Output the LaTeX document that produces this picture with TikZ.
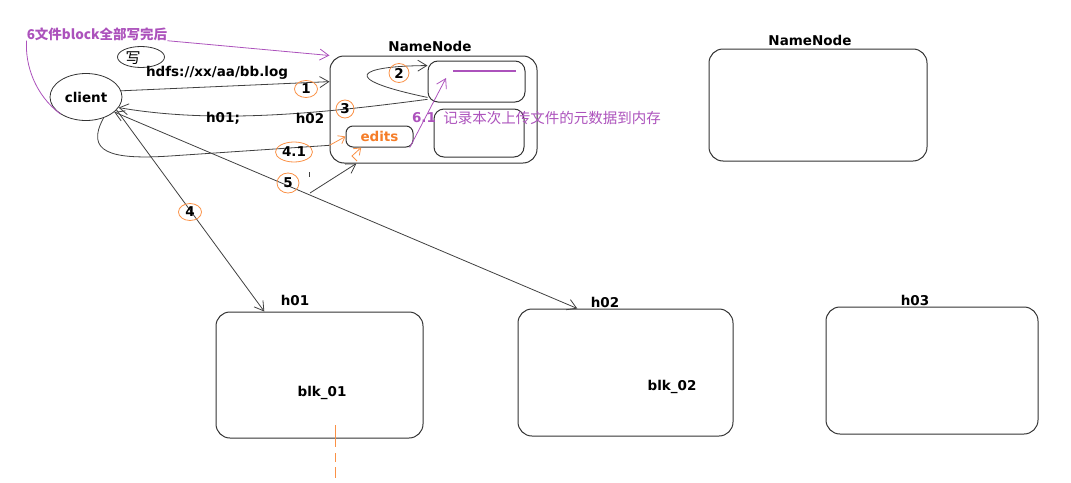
\documentclass[tikz,border=0pt]{standalone}
\usepackage{fontspec}
\setmainfont{DejaVu Sans}
\newfontfamily\cjk{Noto Sans CJK SC}
\usepackage{tikz}
\usetikzlibrary{shapes.geometric,arrows.meta,positioning}
\definecolor{notepurple}{RGB}{172,82,188}
\definecolor{markorange}{RGB}{250,145,70}
\definecolor{editorange}{RGB}{245,125,40}

\begin{document}
\begin{tikzpicture}[x=1pt, y=-1pt,
    box/.style={draw=black!80, line width=1pt, rounded corners=14pt, inner sep=0pt},
    lbl/.style={font=\bfseries\fontsize{13.5}{15}\selectfont, inner sep=0pt},
    num/.style={ellipse, draw=markorange, line width=0.8pt, inner sep=0pt, font=\bfseries\fontsize{13.5}{15}\selectfont},
    arr/.style={-{Straight Barb[length=9pt, width=11pt]}, line width=0.8pt, black!75},
    darr/.style={{Straight Barb[length=9pt, width=11pt]}-{Straight Barb[length=9pt, width=11pt]}, line width=0.8pt, black!75},
    oarr/.style={-{Straight Barb[length=6pt, width=9pt]}, line width=0.8pt, markorange},
    parr/.style={-{Straight Barb[length=9pt, width=11pt]}, line width=0.8pt, notepurple}]

    \useasboundingbox (0,0) rectangle (1071,482);

    % Client
    \node[ellipse, draw=black!80, line width=0.8pt, minimum width=72pt, minimum height=47pt, lbl] (client) at (86,97) {client};
    \node[ellipse, draw=black!80, line width=0.8pt, minimum width=47pt, minimum height=21pt] (xie) at (141,57) {};
    \node[font=\cjk\fontsize{15}{16}\selectfont, inner sep=0pt] (xietxt) at (133,58) {写};
    \node[font=\cjk\bfseries\fontsize{13.5}{15}\selectfont, text=notepurple, inner sep=0pt] (note6) at (97,34) {6文件block全部写完后};

    % NameNode (active)
    \node[box, minimum width=207pt, minimum height=107pt] (nn) at (433.5,109.5) {};
    \node[lbl] (nnlbl) at (430,46) {NameNode};
    \node[box, rounded corners=10pt, minimum width=97pt, minimum height=41pt] (meta) at (476.5,81.5) {};
    \node[box, rounded corners=10pt, minimum width=90pt, minimum height=48pt] (mem) at (479,133) {};
    \node[box, rounded corners=7pt, minimum width=67pt, minimum height=21pt, lbl, text=editorange] (edits) at (379.5,136.5) {edits};
    \draw[notepurple, line width=1.4pt] (453,71) -- (516,71);

    % NameNode (standby)
    \node[box, minimum width=218pt, minimum height=112pt] (nn2) at (818,105) {};
    \node[lbl] (nn2lbl) at (810,40) {NameNode};

    % DataNodes
    \node[box, minimum width=207pt, minimum height=126pt] (h01) at (319.5,375) {};
    \node[lbl] (h01lbl) at (295,300) {h01};
    \node[lbl] (blk01) at (322,393) {blk\_01};
    \node[box, minimum width=215pt, minimum height=127pt] (h02) at (625.5,372.5) {};
    \node[lbl] (h02lbl) at (605,302) {h02};
    \node[lbl] (blk02) at (672,387) {blk\_02};
    \node[box, minimum width=212pt, minimum height=127pt] (h03) at (932,370.5) {};
    \node[lbl] (h03lbl) at (915,300) {h03};
    \draw[markorange, line width=0.8pt, dash pattern=on 22pt off 6pt on 9pt off 5pt] (335,425) -- (335,478);

    % 1: upload request
    \draw[arr] (client.10) -- (nn.165);
    \node[lbl] (path) at (217,73) {hdfs://xx/aa/bb.log};
    \node[num, minimum width=23pt, minimum height=17pt] (n1) at (306,89) {1};

    % 2: check inside NameNode
    \draw[arr] (meta.198) .. controls (335,78) and (360,66) .. (meta.162);
    \node[num, minimum width=20pt, minimum height=19pt] (n2) at (399,73) {2};

    % 3: reply with DataNodes
    \draw[arr] (meta.200) .. controls (330,112) and (220,125) .. (client.-18);
    \node[num, minimum width=18pt, minimum height=18pt] (n3) at (345,109) {3};
    \node[lbl] (h01a) at (223,118) {h01;};
    \node[lbl] (h02a) at (310,118) {h02};

    % 4.1: write edits
    \draw[line width=0.8pt, black!75] (client.-50) .. controls (85,152) and (110,160) .. (170,156) -- (nn.199);
    \draw[oarr] (nn.199) -- (edits.west);
    \node[num, minimum width=37pt, minimum height=20pt] (n41) at (294,152) {4.1};

    % 4: write block to h01
    \draw[arr] (client.-23) -- (h01.131);
    \node[num, minimum width=23pt, minimum height=17pt] (n4) at (190,212) {4};

    % 5: pipeline to h02, report back
    \draw[darr] (client.-28) -- (h02.127);
    \coordinate (b5) at (310,193);
    \draw[arr] (b5) -- (nn.215);
    \draw[line width=0.8pt, black!75] (309,172) -- (309,177);
    \coordinate (o5) at (357,161);
    \draw[oarr] (o5) -- (352,156) -- (edits.211);
    \node[num, minimum width=22pt, minimum height=20pt] (n5) at (288,183) {5};

    % 6: all blocks written
    \draw[parr] (note6.south east) -- (nn.north west);
    \draw[line width=0.8pt, notepurple] (note6.south west) .. controls (25,65) and (35,95) .. (client.214);

    % 6.1: metadata into memory
    \coordinate (m61) at (446,78);
    \draw[parr] (edits.-20) -- (m61);
    \node[lbl, text=notepurple] (n61) at (424,118) {6.1};
    \node[font=\cjk\fontsize{14.5}{16}\selectfont, text=notepurple, inner sep=0pt] (memo) at (552,118) {记录本次上传文件的元数据到内存};
\end{tikzpicture}
\end{document}
